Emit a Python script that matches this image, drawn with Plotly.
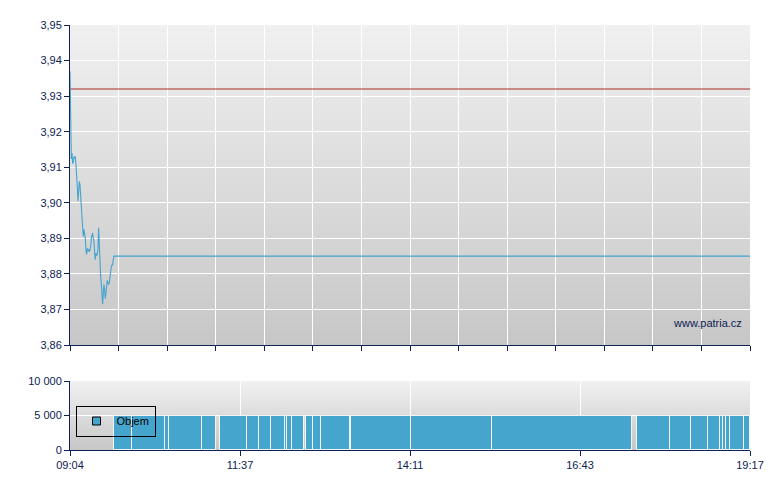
import base64
import struct
import zlib
import datetime as dt
import plotly.graph_objects as go

# ---------------- data ----------------
DAY = "2024-01-01"
session_start = "09:04:00"
session_end = "19:17:00"

price_times = [
    "09:04:00", "09:04:36", "09:05:12", "09:05:48", "09:06:24", "09:07:00", "09:07:36", "09:08:12",
    "09:08:48", "09:09:24", "09:10:00", "09:10:36", "09:11:12", "09:11:48", "09:12:24", "09:13:00",
    "09:13:36", "09:14:12", "09:14:48", "09:15:24", "09:16:00", "09:16:36", "09:17:12", "09:17:48",
    "09:18:24", "09:19:00", "09:19:36", "09:20:12", "09:20:48", "09:21:24", "09:22:00", "09:22:36",
    "09:23:12", "09:23:48", "09:24:24", "09:25:00", "09:25:36", "09:26:12", "09:26:48", "09:27:24",
    "09:28:00", "09:28:36", "09:29:12", "09:29:48", "09:30:24", "09:31:00", "09:31:36", "09:32:12",
    "09:32:48", "09:33:24", "09:34:00", "09:34:36", "09:35:12", "09:35:48", "09:36:24", "09:37:00",
    "09:37:36", "09:38:12", "09:38:48", "09:39:24", "09:40:00", "09:40:36", "09:41:12", "09:41:48",
    "09:42:24", "09:43:00", "09:43:36", "19:17:00",
]
price_values = [
    3.937, 3.9148, 3.9123, 3.914, 3.911, 3.9115, 3.913, 3.9127, 3.913, 3.9105,
    3.905, 3.9045, 3.9005, 3.903, 3.906, 3.905, 3.903, 3.899, 3.896, 3.8925,
    3.8905, 3.8925, 3.891, 3.890, 3.8865, 3.8855, 3.8872, 3.8865, 3.887, 3.8862,
    3.8868, 3.8875, 3.890, 3.8912, 3.8915, 3.890, 3.889, 3.886, 3.884, 3.8858,
    3.8852, 3.8855, 3.887, 3.893, 3.8858, 3.881, 3.8795, 3.8773, 3.875, 3.8715,
    3.8745, 3.877, 3.8755, 3.873, 3.8745, 3.877, 3.8782, 3.8775, 3.877, 3.8775,
    3.879, 3.8812, 3.882, 3.8825, 3.8825, 3.884, 3.885, 3.885,
]
prev_close = 3.932

vol_start = [
    "09:44", "10:00", "10:30", "10:33", "11:03", "11:19", "11:44", "11:54", "12:05",
    "12:18", "12:20", "12:24", "12:37", "12:43", "12:50", "13:17", "14:11", "15:24",
    "17:35", "18:05", "18:24", "18:39", "18:50", "18:53", "18:55", "18:59", "19:12",
]
vol_end = [
    "10:00", "10:30", "10:33", "11:03", "11:16", "11:44", "11:54", "12:05", "12:18",
    "12:20", "12:24", "12:35", "12:43", "12:50", "13:16", "14:11", "15:24", "17:31",
    "18:05", "18:24", "18:39", "18:50", "18:53", "18:55", "18:59", "19:12", "19:17",
]
vol_values = [
    5000, 5000, 5000, 5000, 5000, 5000, 5000, 5000, 5000,
    5000, 5000, 5000, 5000, 5000, 5000, 5000, 5000, 5000,
    5000, 5000, 5000, 5000, 5000, 5000, 5000, 5000, 5000,
]

x_tick_labels = ["09:04", "11:37", "14:11", "16:43", "19:17"]
price_range = [3.86, 3.95]
vol_range = [0, 10000]

# ---------------- styling ----------------
NAVY = "#0d2252"
LINE_BLUE = "#45a3d0"
BAR_BLUE = "#45a5cc"
RED = "#ad2a24"
FONT = "Liberation Sans, Arial, sans-serif"
PAGE_OFFSET = 8  # default body margin of the html page


def ts(t):
    if len(t) == 5:
        t = t + ":00"
    return dt.datetime.strptime(f"{DAY} {t}", "%Y-%m-%d %H:%M:%S")


def gradient_png(top, bottom, n=160):
    raw = b""
    for i in range(n):
        v = round(top + (bottom - top) * i / (n - 1))
        raw += b"\x00" + bytes([v, v, v])

    def chunk(tag, data):
        c = struct.pack(">I", len(data)) + tag + data
        return c + struct.pack(">I", zlib.crc32(tag + data) & 0xFFFFFFFF)

    png = (b"\x89PNG\r\n\x1a\n"
           + chunk(b"IHDR", struct.pack(">IIBBBBB", 1, n, 8, 2, 0, 0, 0))
           + chunk(b"IDAT", zlib.compress(raw))
           + chunk(b"IEND", b""))
    return "data:image/png;base64," + base64.b64encode(png).decode()


t0 = ts(session_start)
t1 = ts(session_end)
span = t1 - t0

px = [ts(t) for t in price_times]

bar_x, bar_w = [], []
for s, e in zip(vol_start, vol_end):
    a, b = ts(s), ts(e)
    bar_x.append(a + (b - a) / 2)
    bar_w.append((b - a).total_seconds() * 1000)

main_ticks = [t0 + span * i / 14 for i in range(15)]
vol_ticks = [t0 + span * i / 4 for i in range(5)]

H_PLOT = 425.0
main_bottom = 105 / H_PLOT
vol_top = 69 / H_PLOT

fig = go.Figure()

fig.add_trace(go.Scatter(
    x=[t0, t1], y=[prev_close, prev_close], mode="lines",
    line=dict(color=RED, width=1), showlegend=False, hoverinfo="skip",
    xaxis="x", yaxis="y"))

fig.add_trace(go.Scatter(
    x=px, y=price_values, mode="lines",
    line=dict(color=LINE_BLUE, width=1.1), showlegend=False,
    xaxis="x", yaxis="y"))

fig.add_trace(go.Bar(
    x=bar_x, y=vol_values, width=bar_w,
    marker=dict(color=BAR_BLUE, line=dict(color="#f4f4f4", width=1)),
    showlegend=False, xaxis="x2", yaxis="y2"))

fig.add_trace(go.Scatter(
    x=[None], y=[None], mode="markers", name="Objem",
    marker=dict(symbol="square", size=8, color=BAR_BLUE, line=dict(color="#000000", width=1)),
    xaxis="x2", yaxis="y2"))

axis_common = dict(
    showline=True, linecolor=NAVY, linewidth=1,
    ticks="outside", ticklen=5, tickcolor=NAVY, tickwidth=1,
    showgrid=True, gridcolor="#ffffff", gridwidth=1, zeroline=False,
    tickfont=dict(family=FONT, size=11, color=NAVY),
)

fig.update_layout(
    width=780 - PAGE_OFFSET, height=490 - PAGE_OFFSET,
    margin=dict(l=70 - PAGE_OFFSET, r=30, t=25 - PAGE_OFFSET, b=40),
    paper_bgcolor="#ffffff", plot_bgcolor="#dcdcdc",
    separators=", ",
    font=dict(family=FONT, size=11, color=NAVY),
    xaxis=dict(axis_common, type="date", range=[t0, t1], tickmode="array",
               tickvals=main_ticks, showticklabels=False, anchor="y"),
    yaxis=dict(axis_common, domain=[main_bottom, 1], range=price_range,
               tick0=3.86, dtick=0.01, tickformat=".2f", anchor="x"),
    xaxis2=dict(axis_common, type="date", range=[t0, t1], tickmode="array",
                tickvals=vol_ticks, ticktext=x_tick_labels, anchor="y2"),
    yaxis2=dict(axis_common, domain=[0, vol_top], range=vol_range,
                tickmode="array", tickvals=[0, 5000, 10000], tickformat=",d", anchor="x2"),
    legend=dict(x=(75.5 - 70) / 680, y=(450 - 405.5) / H_PLOT, xanchor="left", yanchor="top",
                bgcolor="rgba(0,0,0,0)", bordercolor="#000000", borderwidth=1,
                font=dict(family=FONT, size=11, color="#000000"), itemwidth=30),
    images=[
        dict(source=gradient_png(240, 199), xref="paper", yref="paper",
             x=0, y=1, sizex=1, sizey=1 - main_bottom, sizing="stretch",
             xanchor="left", yanchor="top", layer="below"),
        dict(source=gradient_png(241, 199), xref="paper", yref="paper",
             x=0, y=vol_top, sizex=1, sizey=vol_top, sizing="stretch",
             xanchor="left", yanchor="top", layer="below"),
    ],
    annotations=[
        dict(text="www.patria.cz", xref="paper", yref="paper",
             x=(743.5 - 70) / 680, y=(450 - 323) / H_PLOT, xanchor="right", yanchor="middle",
             showarrow=False, font=dict(family=FONT, size=11, color=NAVY)),
    ],
    bargap=0,
)

fig.write_html("out.html")
